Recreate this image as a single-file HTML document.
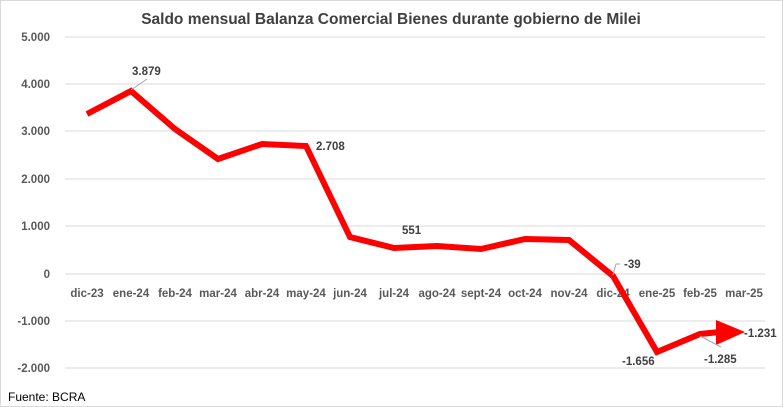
<!DOCTYPE html><html><head><style>body{margin:0;background:#fff}svg{display:block}text{font-family:"Liberation Sans",Calibri,sans-serif}</style></head><body>
<svg width="783" height="407" viewBox="0 0 783 407">
<rect x="0.5" y="0.5" width="782" height="406" fill="#fff" stroke="#d9d9d9"/>
<text x="391" y="24" text-anchor="middle" font-size="15.5" font-weight="bold" fill="#404040">Saldo mensual Balanza Comercial Bienes durante gobierno de Milei</text>
<g stroke="#d9d9d9" stroke-width="1">
<line x1="65" x2="765" y1="37" y2="37"/><line x1="65" x2="765" y1="84" y2="84"/><line x1="65" x2="765" y1="131" y2="131"/><line x1="65" x2="765" y1="179" y2="179"/><line x1="65" x2="765" y1="226" y2="226"/><line x1="65" x2="765" y1="274" y2="274"/><line x1="65" x2="765" y1="321" y2="321"/><line x1="65" x2="765" y1="368" y2="368"/>
</g>
<g font-size="11.5" font-weight="bold" fill="#595959" text-anchor="end">
<text x="50" y="41">5.000</text><text x="50" y="88">4.000</text><text x="50" y="135">3.000</text><text x="50" y="183">2.000</text><text x="50" y="230">1.000</text><text x="50" y="278">0</text><text x="50" y="325">-1.000</text><text x="50" y="372">-2.000</text>
</g>
<g font-size="11.5" font-weight="bold" fill="#595959" text-anchor="middle">
<text x="87" y="297">dic-23</text><text x="131" y="297">ene-24</text><text x="175" y="297">feb-24</text><text x="218" y="297">mar-24</text><text x="262" y="297">abr-24</text><text x="306" y="297">may-24</text><text x="350" y="297">jun-24</text><text x="394" y="297">jul-24</text><text x="437" y="297">ago-24</text><text x="481" y="297">sept-24</text><text x="525" y="297">oct-24</text><text x="569" y="297">nov-24</text><text x="613" y="297">dic-24</text><text x="657" y="297">ene-25</text><text x="700" y="297">feb-25</text><text x="744" y="297">mar-25</text>
</g>
<polyline points="87,114 131,91 175,129 218,159 262,144 306,146 350,237 394,248 437,246 481,249 525,239 569,240 613,276 657,352 700,334 720,332" fill="none" stroke="#ff0000" stroke-width="6" stroke-linejoin="miter"/>
<polygon points="716,320 745,332 716,345" fill="#ff0000"/>
<g stroke="#a6a6a6" stroke-width="1" fill="none">
<line x1="131" y1="90" x2="147" y2="79"/><polyline points="613,275 616,264 620,264"/><polyline points="700,336 721,347"/>
</g>
<g font-size="11.5" font-weight="bold" fill="#404040">
<text x="132" y="75">3.879</text><text x="316" y="150">2.708</text><text x="402" y="234">551</text><text x="624" y="268">-39</text><text x="622" y="365">-1.656</text><text x="704" y="363">-1.285</text><text x="744" y="337">-1.231</text>
</g>
<text x="8" y="401" font-size="12" fill="#000">Fuente: BCRA</text>
</svg></body></html>
